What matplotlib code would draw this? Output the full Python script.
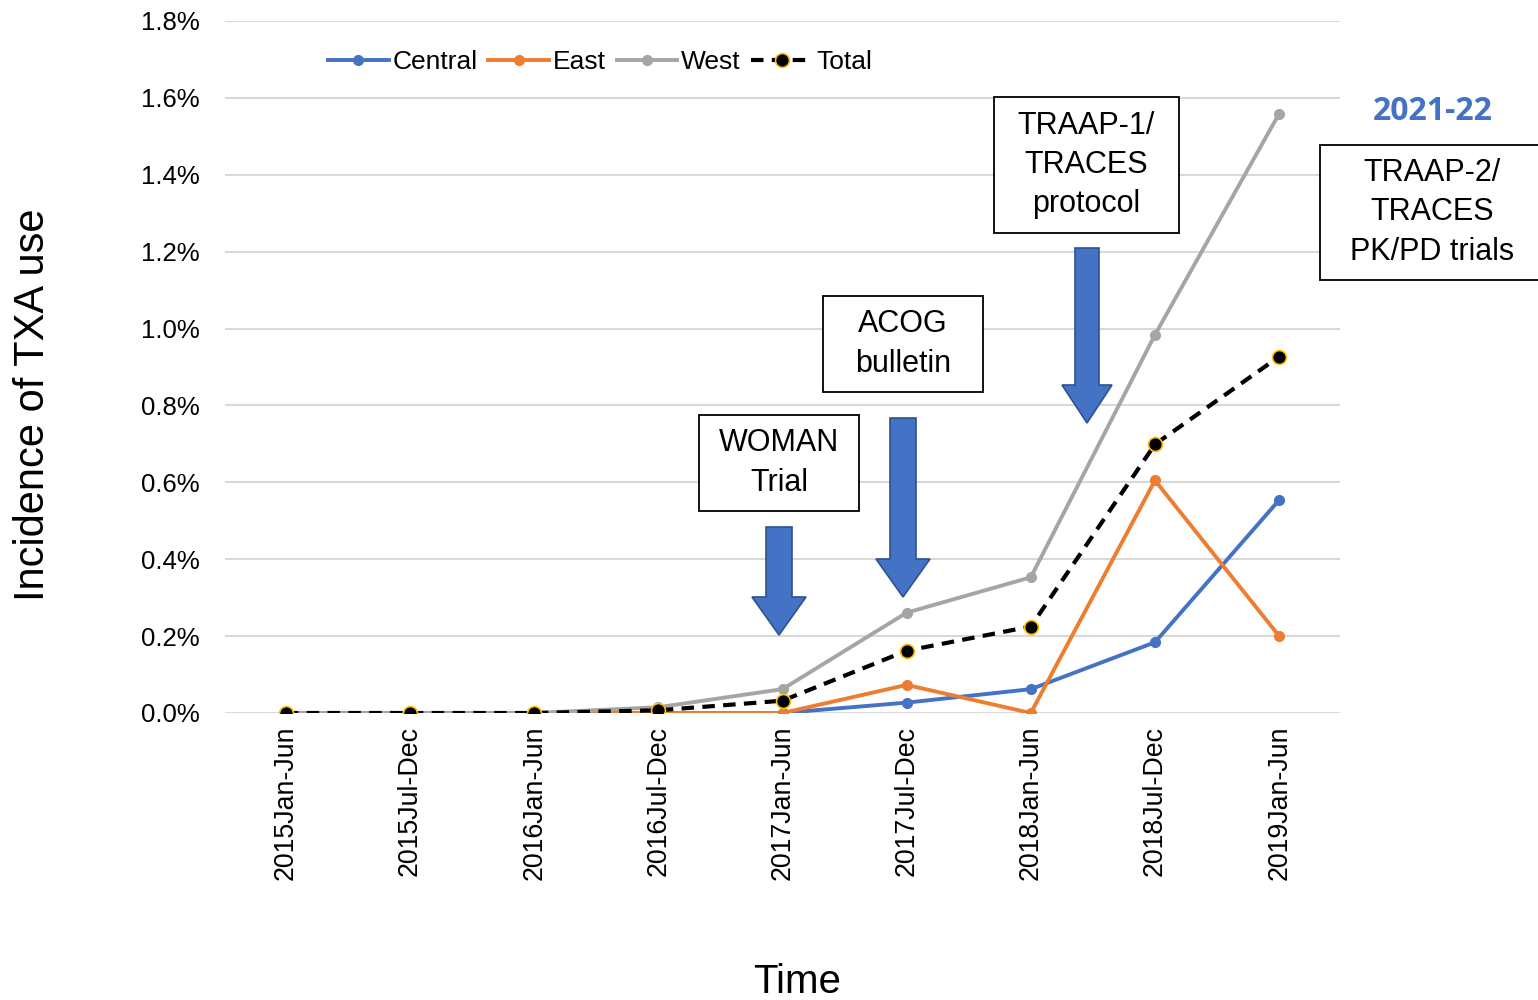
import numpy as np
import matplotlib.pyplot as plt
from matplotlib.patches import Polygon, Rectangle

plt.rcParams['font.family'] = ['Liberation Sans', 'DejaVu Sans']

periods = ['2015Jan-Jun', '2015Jul-Dec', '2016Jan-Jun', '2016Jul-Dec', '2017Jan-Jun',
           '2017Jul-Dec', '2018Jan-Jun', '2018Jul-Dec', '2019Jan-Jun']
central = [0, 0, 0, 0, 0, 0.027, 0.062, 0.184, 0.554]     # % incidence
east = [0, 0, 0, 0, 0, 0.073, 0, 0.605, 0.200]
west = [0, 0, 0, 0.015, 0.062, 0.261, 0.353, 0.984, 1.559]
total = [0, 0, 0, 0.007, 0.032, 0.162, 0.225, 0.699, 0.927]
yticks = [0, 0.2, 0.4, 0.6, 0.8, 1.0, 1.2, 1.4, 1.6, 1.8]

W, H = 1538, 1000
fig = plt.figure(figsize=(W/100, H/100), dpi=100)
ax = fig.add_axes([225/W, 1-713/H, (1340-225)/W, (713-21)/H])

x = np.arange(len(periods))
ax.plot(x, central, color='#4472C4', lw=2.8, marker='o', ms=7, label='Central')
ax.plot(x, east, color='#ED7D31', lw=2.8, marker='o', ms=7, label='East')
ax.plot(x, west, color='#A5A5A5', lw=2.8, marker='o', ms=7, label='West')
ax.plot(x, total, color='black', lw=3, ls=(0, (3, 2)), marker='o', ms=10,
        mfc='black', mec='#FFC000', mew=1.2, label='Total')

ax.set_xlim(-0.49, 8.49)
ax.set_ylim(0, 1.8)
ax.set_yticks(yticks)
ax.set_yticklabels(['%.1f%%' % v for v in yticks], fontsize=18.5)
ax.set_xticks(x)
ax.set_xticklabels(periods, rotation=90, fontsize=19.3)
ax.tick_params(axis='both', length=0)
ax.tick_params(axis='y', pad=18)
ax.tick_params(axis='x', pad=9)
ax.grid(axis='y', color='#D9D9D9', lw=1.5)
ax.set_axisbelow(True)
for s in ax.spines.values():
    s.set_visible(False)

fig.text(33/W, 1-405/H, 'Incidence of TXA use', rotation=90, fontsize=30,
         ha='center', va='center')
fig.text(797/W, 1-982/H, 'Time', fontsize=29, ha='center', va='center')

ax.legend(loc='center', bbox_to_anchor=(600/W, 1-62/H), bbox_transform=fig.transFigure,
          ncol=4, frameon=False, fontsize=19, handlelength=2.3, handletextpad=0.15,
          columnspacing=0.4)

# annotation boxes (pixel coords -> figure fraction)
def box(x0, y0, x1, y1, text, fs=22):
    fig.add_artist(Rectangle((x0/W, 1-y1/H), (x1-x0)/W, (y1-y0)/H, transform=fig.transFigure,
                             fill=True, fc='white', ec='black', lw=1.3))
    fig.text((x0+x1)/2/W, 1-(y0+y1)/2/H, text, fontsize=fs, ha='center', va='center',
             linespacing=1.4)

def arrow(xc, top, tip, sw=13, hw=27, hl=38):
    pts = [(xc-sw, top), (xc+sw, top), (xc+sw, tip-hl), (xc+hw, tip-hl), (xc, tip),
           (xc-hw, tip-hl), (xc-sw, tip-hl)]
    pts = [(px/W, 1-py/H) for px, py in pts]
    fig.add_artist(Polygon(pts, closed=True, transform=fig.transFigure,
                           fc='#4472C4', ec='#2F528F', lw=1.2))

box(699, 415, 859, 511, 'WOMAN\nTrial')
box(823, 296, 983, 392, 'ACOG\nbulletin')
box(994, 97, 1179, 233, 'TRAAP-1/\nTRACES\nprotocol')
box(1320, 145, 1545, 280, 'TRAAP-2/\nTRACES\nPK/PD trials')

arrow(779, 527, 635)
arrow(903, 418, 597)
arrow(1087, 248, 423, sw=12, hw=25)

fig.text(1433/W, 1-112/H, '2021-22', fontsize=23, fontweight='bold', color='#4472C4',
         family=['Open Sans', 'DejaVu Sans'], ha='center', va='center')

fig.savefig('out.png', dpi=100)
